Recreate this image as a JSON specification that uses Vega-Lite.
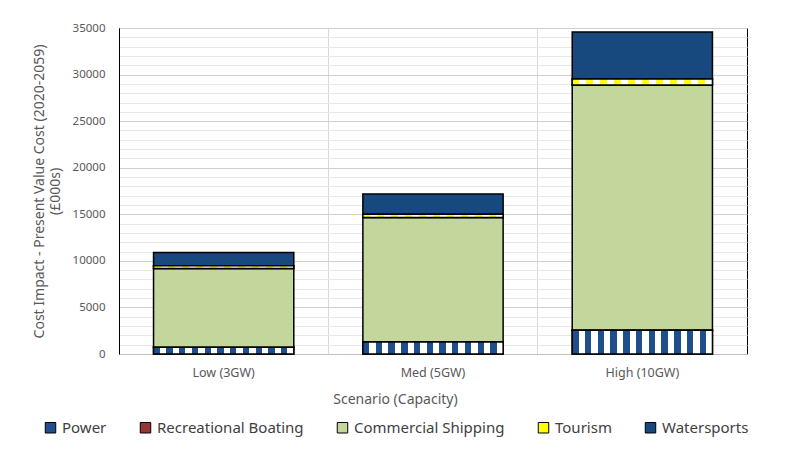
{
  "$schema": "https://vega.github.io/schema/vega-lite/v6.json",
  "autosize": {"type": "none"},
  "padding": {"left": 119, "top": 28, "right": 43, "bottom": 97},
  "width": 628,
  "height": 326,
  "background": "white",
  "data": {
    "values": [
      {"scenario": "Low (3GW)", "category": "Power", "cost": 720},
      {"scenario": "Low (3GW)", "category": "Recreational Boating", "cost": 15},
      {"scenario": "Low (3GW)", "category": "Commercial Shipping", "cost": 8440},
      {"scenario": "Low (3GW)", "category": "Tourism", "cost": 300},
      {"scenario": "Low (3GW)", "category": "Watersports", "cost": 1420},
      {"scenario": "Med (5GW)", "category": "Power", "cost": 1300},
      {"scenario": "Med (5GW)", "category": "Recreational Boating", "cost": 20},
      {"scenario": "Med (5GW)", "category": "Commercial Shipping", "cost": 13330},
      {"scenario": "Med (5GW)", "category": "Tourism", "cost": 350},
      {"scenario": "Med (5GW)", "category": "Watersports", "cost": 2180},
      {"scenario": "High (10GW)", "category": "Power", "cost": 2540},
      {"scenario": "High (10GW)", "category": "Recreational Boating", "cost": 40},
      {"scenario": "High (10GW)", "category": "Commercial Shipping", "cost": 26300},
      {"scenario": "High (10GW)", "category": "Tourism", "cost": 640},
      {"scenario": "High (10GW)", "category": "Watersports", "cost": 5050}
    ]
  },
  "transform": [
    {"calculate": "indexof(['Power', 'Recreational Boating', 'Commercial Shipping', 'Tourism', 'Watersports'], datum.category)", "as": "rank"},
    {"stack": "cost", "groupby": ["scenario"], "sort": [{"field": "rank", "order": "ascending"}], "as": ["y0", "y1"]}
  ],
  "encoding": {
    "x": {
      "field": "scenario",
      "type": "nominal",
      "sort": ["Low (3GW)", "Med (5GW)", "High (10GW)"],
      "scale": {"paddingInner": 0.33, "paddingOuter": 0.165},
      "axis": {
        "title": "Scenario (Capacity)",
        "titleX": 276,
        "titleY": 45,
        "titleBaseline": "middle",
        "titleFont": "Noto Sans",
        "titleFontSize": 14,
        "titleFontWeight": "normal",
        "titleColor": "#595959",
        "labelAngle": 0,
        "labelFont": "Noto Sans",
        "labelFontSize": 12.5,
        "labelColor": "#595959",
        "labelPadding": 12,
        "ticks": false,
        "domainColor": "#bfbfbf",
        "grid": true,
        "bandPosition": -0.246,
        "gridColor": "#d9d9d9"
      }
    },
    "y": {
      "field": "y0",
      "type": "quantitative",
      "scale": {"domain": [0, 35000], "nice": false},
      "axis": {
        "title": ["Cost Impact - Present Value Cost (2020-2059)", "(£000s)"],
        "titleFont": "Noto Sans",
        "titleFontSize": 14,
        "titleFontWeight": "normal",
        "titleColor": "#595959",
        "titlePadding": 10,
        "labelFont": "Noto Sans",
        "labelFontSize": 11.5,
        "labelColor": "#595959",
        "labelPadding": 14,
        "ticks": false,
        "domainColor": "black",
        "values": [0, 1000, 2000, 3000, 4000, 5000, 6000, 7000, 8000, 9000, 10000, 11000, 12000, 13000, 14000, 15000, 16000, 17000, 18000, 19000, 20000, 21000, 22000, 23000, 24000, 25000, 26000, 27000, 28000, 29000, 30000, 31000, 32000, 33000, 34000, 35000],
        "labelExpr": "datum.value % 5000 === 0 ? datum.label : ''",
        "format": "d",
        "gridColor": {"condition": {"test": "datum.value % 5000 === 0", "value": "#d0d0d0"}, "value": "#e8e8e8"}
      }
    },
    "y2": {"field": "y1"}
  },
  "layer": [
    {
      "mark": {"type": "bar", "stroke": "black", "strokeWidth": 1.5},
      "encoding": {
        "color": {
          "field": "category",
          "type": "nominal",
          "sort": ["Power", "Recreational Boating", "Commercial Shipping", "Tourism", "Watersports"],
          "scale": {
            "domain": ["Power", "Recreational Boating", "Commercial Shipping", "Tourism", "Watersports"],
            "range": ["#1f4e8c", "#943634", "#c3d69b", "#ffff00", "#17497f"]
          },
          "legend": {
            "title": null,
            "orient": "none",
            "legendX": -76,
            "legendY": 392,
            "direction": "horizontal",
            "columns": 5,
            "columnPadding": 31,
            "symbolType": "square",
            "symbolSize": 110,
            "symbolStrokeColor": "black",
            "symbolStrokeWidth": 1,
            "symbolOpacity": 1,
            "labelFont": "Noto Sans",
            "labelFontSize": 15,
            "labelColor": "#404040",
            "labelOffset": 4
          }
        }
      }
    },
    {
      "transform": [{"filter": "datum.category === 'Power'"}],
      "mark": {
        "type": "bar",
        "stroke": "black",
        "strokeWidth": 1.5,
        "fill": {"gradient": "linear", "x1": 0, "y1": 0, "x2": 1, "y2": 0, "stops": [
          {"offset": 0, "color": "#1f4e8c"}, {"offset": 0.0455, "color": "#1f4e8c"},
          {"offset": 0.0455, "color": "#ffffff"}, {"offset": 0.0909, "color": "#ffffff"},
          {"offset": 0.0909, "color": "#1f4e8c"}, {"offset": 0.1364, "color": "#1f4e8c"},
          {"offset": 0.1364, "color": "#ffffff"}, {"offset": 0.1818, "color": "#ffffff"},
          {"offset": 0.1818, "color": "#1f4e8c"}, {"offset": 0.2273, "color": "#1f4e8c"},
          {"offset": 0.2273, "color": "#ffffff"}, {"offset": 0.2727, "color": "#ffffff"},
          {"offset": 0.2727, "color": "#1f4e8c"}, {"offset": 0.3182, "color": "#1f4e8c"},
          {"offset": 0.3182, "color": "#ffffff"}, {"offset": 0.3636, "color": "#ffffff"},
          {"offset": 0.3636, "color": "#1f4e8c"}, {"offset": 0.4091, "color": "#1f4e8c"},
          {"offset": 0.4091, "color": "#ffffff"}, {"offset": 0.4545, "color": "#ffffff"},
          {"offset": 0.4545, "color": "#1f4e8c"}, {"offset": 0.5, "color": "#1f4e8c"},
          {"offset": 0.5, "color": "#ffffff"}, {"offset": 0.5455, "color": "#ffffff"},
          {"offset": 0.5455, "color": "#1f4e8c"}, {"offset": 0.5909, "color": "#1f4e8c"},
          {"offset": 0.5909, "color": "#ffffff"}, {"offset": 0.6364, "color": "#ffffff"},
          {"offset": 0.6364, "color": "#1f4e8c"}, {"offset": 0.6818, "color": "#1f4e8c"},
          {"offset": 0.6818, "color": "#ffffff"}, {"offset": 0.7273, "color": "#ffffff"},
          {"offset": 0.7273, "color": "#1f4e8c"}, {"offset": 0.7727, "color": "#1f4e8c"},
          {"offset": 0.7727, "color": "#ffffff"}, {"offset": 0.8182, "color": "#ffffff"},
          {"offset": 0.8182, "color": "#1f4e8c"}, {"offset": 0.8636, "color": "#1f4e8c"},
          {"offset": 0.8636, "color": "#ffffff"}, {"offset": 0.9091, "color": "#ffffff"},
          {"offset": 0.9091, "color": "#1f4e8c"}, {"offset": 0.9545, "color": "#1f4e8c"},
          {"offset": 0.9545, "color": "#ffffff"}, {"offset": 1, "color": "#ffffff"}
        ]}
      }
    },
    {
      "transform": [{"filter": "datum.category === 'Tourism'"}],
      "mark": {
        "type": "bar",
        "stroke": "black",
        "strokeWidth": 1.5,
        "fill": {"gradient": "linear", "x1": 0, "y1": 0, "x2": 1, "y2": 0, "stops": [
          {"offset": 0, "color": "#ffff00"}, {"offset": 0.05, "color": "#ffff00"},
          {"offset": 0.05, "color": "#ffffff"}, {"offset": 0.1, "color": "#ffffff"},
          {"offset": 0.1, "color": "#ffff00"}, {"offset": 0.15, "color": "#ffff00"},
          {"offset": 0.15, "color": "#ffffff"}, {"offset": 0.2, "color": "#ffffff"},
          {"offset": 0.2, "color": "#ffff00"}, {"offset": 0.25, "color": "#ffff00"},
          {"offset": 0.25, "color": "#ffffff"}, {"offset": 0.3, "color": "#ffffff"},
          {"offset": 0.3, "color": "#ffff00"}, {"offset": 0.35, "color": "#ffff00"},
          {"offset": 0.35, "color": "#ffffff"}, {"offset": 0.4, "color": "#ffffff"},
          {"offset": 0.4, "color": "#ffff00"}, {"offset": 0.45, "color": "#ffff00"},
          {"offset": 0.45, "color": "#ffffff"}, {"offset": 0.5, "color": "#ffffff"},
          {"offset": 0.5, "color": "#ffff00"}, {"offset": 0.55, "color": "#ffff00"},
          {"offset": 0.55, "color": "#ffffff"}, {"offset": 0.6, "color": "#ffffff"},
          {"offset": 0.6, "color": "#ffff00"}, {"offset": 0.65, "color": "#ffff00"},
          {"offset": 0.65, "color": "#ffffff"}, {"offset": 0.7, "color": "#ffffff"},
          {"offset": 0.7, "color": "#ffff00"}, {"offset": 0.75, "color": "#ffff00"},
          {"offset": 0.75, "color": "#ffffff"}, {"offset": 0.8, "color": "#ffffff"},
          {"offset": 0.8, "color": "#ffff00"}, {"offset": 0.85, "color": "#ffff00"},
          {"offset": 0.85, "color": "#ffffff"}, {"offset": 0.9, "color": "#ffffff"},
          {"offset": 0.9, "color": "#ffff00"}, {"offset": 0.95, "color": "#ffff00"},
          {"offset": 0.95, "color": "#ffffff"}, {"offset": 1, "color": "#ffffff"}
        ]}
      }
    }
  ],
  "config": {
    "view": {"stroke": "black", "strokeWidth": 1}
  }
}
